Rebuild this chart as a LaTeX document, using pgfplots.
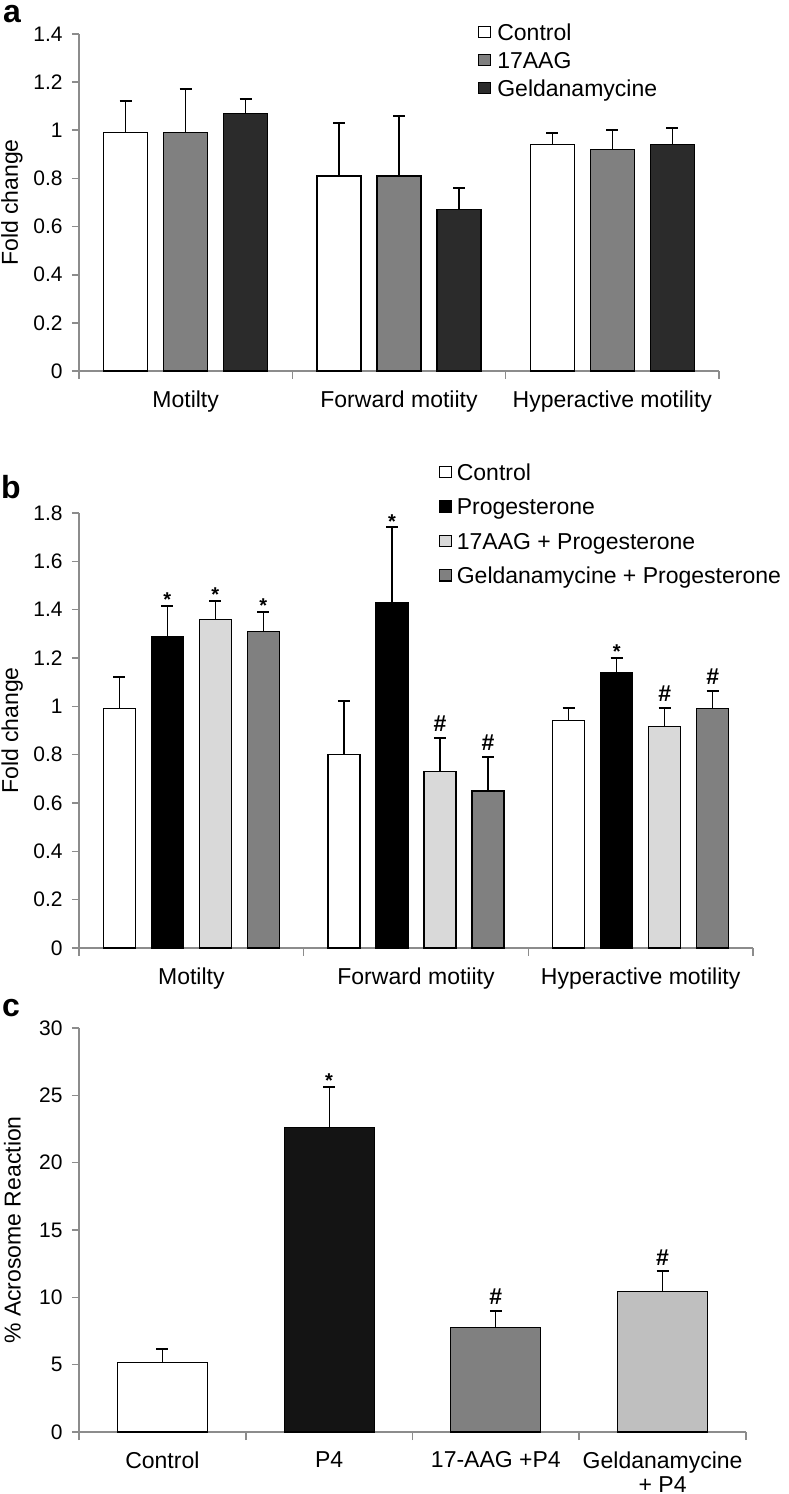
\documentclass[border=0pt]{standalone}
\usepackage{fontspec}
\setmainfont{Liberation Sans}
\usepackage{pgfplots}
\pgfplotsset{compat=1.18}

\definecolor{axgray}{HTML}{8C8C8C}
\definecolor{midgray}{HTML}{808080}
\definecolor{darkbar}{HTML}{2B2B2B}
\definecolor{lightbar}{HTML}{D9D9D9}
\definecolor{pfour}{HTML}{141414}
\definecolor{geldc}{HTML}{BFBFBF}

\newcommand{\tickfont}{\fontsize{10.5}{12}\selectfont}
\newcommand{\labfont}{\fontsize{11.5}{13}\selectfont}

\pgfplotsset{
  refstyle/.style={
    scale only axis,
    clip=false,
    axis x line*=bottom, axis y line*=left,
    axis line style={axgray, line width=0.8pt},
    tick align=outside,
    major tick length=3.5pt,
    tick style={axgray, line width=0.8pt},
    xtick style={draw=none},
    ytick style={draw=axgray},
    extra x tick labels={},
    extra x tick style={xtick style={draw=axgray}, major tick length=4pt},
    ymin=0, xmin=-0.5,
    /pgf/number format/assume math mode=true,
    yticklabel style={font=\tickfont, anchor=east, inner sep=0pt, xshift=-4.5pt},
    xticklabel style={font=\labfont, anchor=north, inner sep=0pt, yshift=-6pt, align=center},
    ylabel style={font=\labfont, anchor=center},
    error bars/y dir=plus, error bars/y explicit,
    error bars/error bar style={black, line width=0.6pt},
    error bars/error mark options={black, line width=1pt, mark size=3pt, rotate=90},
  },
  sqlegend/.style={
    legend image code/.code={\draw[##1, draw=black, line width=0.6pt] (0pt,-1.6pt) rectangle (6pt,4pt);},
    legend cell align=left,
  },
  barst/.style={draw=black, line width=0.6pt, fill=#1},
}

\begin{document}
\begin{tikzpicture}
\path[use as bounding box] (0,0) rectangle (394pt,747pt);

% ---- panel a
\begin{axis}[refstyle,
  at={(39.5pt,561.5pt)}, anchor=south west,
  width=320pt, height=168.5pt,
  ybar=8pt, bar width=22pt, sqlegend,
  xmax=2.5, ymax=1.4,
  ytick={0,0.2,...,1.4},
  xtick={0,1,2},
  xticklabels={Motilty, Forward motiity, Hyperactive motility},
  extra x ticks={-0.5,0.5,1.5,2.5},
  ylabel={Fold change},
  ylabel style={at={(axis description cs:-0.105,0.5)}},
  legend style={draw=none, fill=none, inner sep=0pt,
    at={(axis description cs:0.623,1.032)}, anchor=north west,
    font=\labfont, row sep=3pt, column sep=3pt,
    nodes={inner sep=0pt, text height=8.5pt, text depth=2.5pt}},
]
\addplot[barst=white] coordinates {(0,0.99) +- (0,0.13) (1,0.81) +- (0,0.22) (2,0.94) +- (0,0.05)};
\addlegendentry{Control}
\addplot[barst=midgray] coordinates {(0,0.99) +- (0,0.18) (1,0.81) +- (0,0.25) (2,0.92) +- (0,0.08)};
\addlegendentry{17AAG}
\addplot[barst=darkbar] coordinates {(0,1.07) +- (0,0.06) (1,0.67) +- (0,0.09) (2,0.94) +- (0,0.07)};
\addlegendentry{Geldanamycine}
\end{axis}

% ---- panel b
\begin{axis}[refstyle,
  at={(39.5pt,273pt)}, anchor=south west,
  width=337pt, height=217.5pt,
  ybar=8pt, bar width=16pt, sqlegend,
  xmax=2.5, ymax=1.8,
  ytick={0,0.2,...,1.8},
  xtick={0,1,2},
  xticklabels={Motilty, Forward motiity, Hyperactive motility},
  extra x ticks={-0.5,0.5,1.5,2.5},
  ylabel={Fold change},
  ylabel style={at={(axis description cs:-0.099,0.5)}},
  legend style={draw=none, fill=none, inner sep=0pt,
    at={(axis description cs:0.533,1.1145)}, anchor=north west,
    font=\labfont, row sep=6.2pt, column sep=2.5pt,
    nodes={inner sep=0pt, text height=8.5pt, text depth=2.5pt}},
]
\addplot[barst=white] coordinates {(0,0.99) +- (0,0.13) (1,0.80) +- (0,0.22) (2,0.94) +- (0,0.055)};
\addlegendentry{Control}
\addplot[barst=black] coordinates {(0,1.29) +- (0,0.125) (1,1.43) +- (0,0.31) (2,1.14) +- (0,0.06)};
\addlegendentry{Progesterone}
\addplot[barst=lightbar] coordinates {(0,1.36) +- (0,0.075) (1,0.73) +- (0,0.14) (2,0.915) +- (0,0.08)};
\addlegendentry{17AAG + Progesterone}
\addplot[barst=midgray] coordinates {(0,1.31) +- (0,0.08) (1,0.65) +- (0,0.14) (2,0.99) +- (0,0.075)};
\addlegendentry{Geldanamycine + Progesterone}
\begin{scope}[every node/.style={font=\bfseries\fontsize{10}{12}\selectfont, anchor=south, inner sep=0pt}]
\node[xshift=-12pt, yshift=-0.5pt] at (axis cs:0,1.415) {*};
\node[xshift=12pt, yshift=-0.5pt] at (axis cs:0,1.435) {*};
\node[xshift=36pt, yshift=-0.5pt] at (axis cs:0,1.39) {*};
\node[xshift=-12pt, yshift=-0.5pt] at (axis cs:1,1.74) {*};
\node[xshift=-12pt, yshift=-0.5pt] at (axis cs:2,1.20) {*};
\end{scope}
\begin{scope}[every node/.style={font=\bfseries\fontsize{11.5}{13}\selectfont, anchor=south, inner sep=0pt}]
\node[xshift=12pt, yshift=3pt] at (axis cs:1,0.87) {\#};
\node[xshift=36pt, yshift=3pt] at (axis cs:1,0.79) {\#};
\node[xshift=12pt, yshift=3pt] at (axis cs:2,0.995) {\#};
\node[xshift=36pt, yshift=3pt] at (axis cs:2,1.065) {\#};
\end{scope}
\end{axis}

% ---- panel c
\begin{axis}[refstyle,
  at={(39.5pt,31pt)}, anchor=south west,
  width=333.5pt, height=202pt,
  ybar, bar width=45pt,
  xmax=3.5, ymax=30,
  ytick={0,5,...,30},
  xtick={0,1,2,3},
  xticklabels={Control, P4, 17-AAG +P4, {Geldanamycine\\[-1pt]+ P4}},
  extra x ticks={-0.5,0.5,1.5,2.5,3.5},
  ylabel={\% Acrosome Reaction},
  ylabel style={at={(axis description cs:-0.1,0.5)}},
]
\addplot[barst=white, bar shift=0pt] coordinates {(0,5.18) +- (0,1.0)};
\addplot[barst=pfour, bar shift=0pt] coordinates {(1,22.6) +- (0,3.05)};
\addplot[barst=midgray, bar shift=0pt] coordinates {(2,7.76) +- (0,1.24)};
\addplot[barst=geldc, bar shift=0pt] coordinates {(3,10.45) +- (0,1.47)};
\node[font=\bfseries\fontsize{10}{12}\selectfont, anchor=south, inner sep=0pt, yshift=-0.5pt] at (axis cs:1,25.65) {*};
\node[font=\bfseries\fontsize{11.5}{13}\selectfont, anchor=south, inner sep=0pt, yshift=3pt] at (axis cs:2,9.0) {\#};
\node[font=\bfseries\fontsize{11.5}{13}\selectfont, anchor=south, inner sep=0pt, yshift=3pt] at (axis cs:3,11.92) {\#};
\end{axis}

\node[font=\bfseries\fontsize{16}{19}\selectfont] at (6pt,739.75pt) {a};
\node[font=\bfseries\fontsize{16}{19}\selectfont] at (5.5pt,503.5pt) {b};
\node[font=\bfseries\fontsize{16}{19}\selectfont] at (5.5pt,243pt) {c};
\end{tikzpicture}
\end{document}
